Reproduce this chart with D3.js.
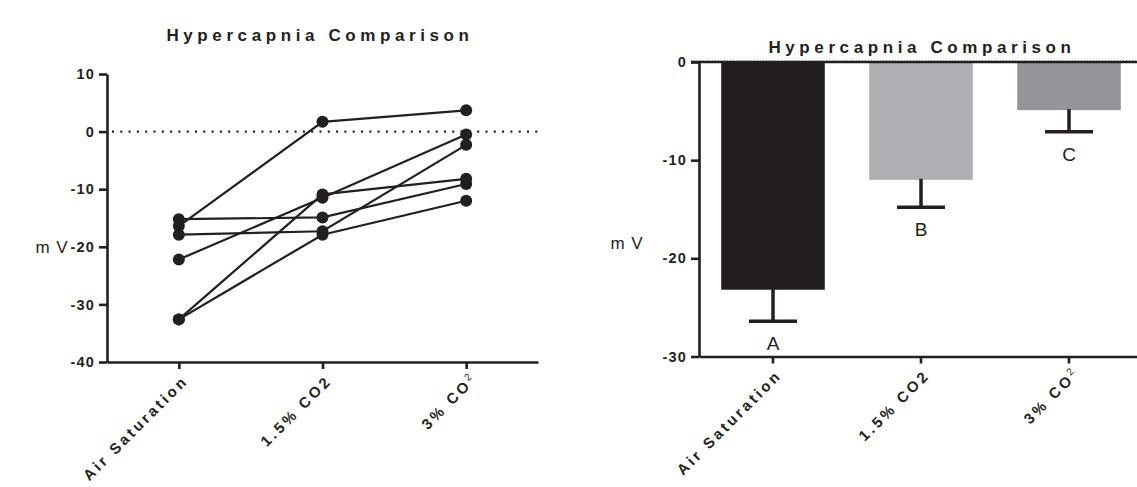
<!DOCTYPE html>
<html>
<head>
<meta charset="utf-8">
<script src="https://cdn.jsdelivr.net/npm/d3@7"></script>
<style>
  body { margin: 0; background: #fff; }
  svg { font-family: "Liberation Sans", Arial, sans-serif; }
  .ttl { font-weight: bold; font-size: 17px; letter-spacing: 4.6px; fill: #231f20; }
  .tick text { font-weight: bold; font-size: 14.5px; letter-spacing: 1.2px; fill: #231f20; font-family: "Liberation Sans", Arial, sans-serif; }
  .tick text.cat { font-size: 15px; letter-spacing: 3px; }
  .ylab { font-size: 17px; fill: #231f20; letter-spacing: 1px; }
  .grp { font-size: 19px; fill: #231f20; }
</style>
</head>
<body>
<svg id="chart" width="1137" height="487"></svg>
<script>
// categories + tick labels
const categories = ["Air Saturation", "1.5% CO2", "3% CO2"];
const leftTicks = [10, 0, -10, -20, -30, -40];
const rightTicks = [0, -10, -20, -30];

// paired recordings, one array per preparation (Air, 1.5%, 3%)
const subject1 = [-16.4, 1.7, 3.7];
const subject2 = [-15.2, -14.9, -9.1];
const subject3 = [-17.9, -17.3, -2.3];
const subject4 = [-22.2, -11.5, -0.5];
const subject5 = [-32.6, -10.9, -8.2];
const subject6 = [-32.6, -17.9, -12.0];
const subjects = [subject1, subject2, subject3, subject4, subject5, subject6];

// bar chart: means, error (lower end), letters
const barMeans = [-23.2, -12.0, -4.9];
const barErrLow = [-26.4, -14.8, -7.1];
const barLetters = ["A", "B", "C"];
const barColors = ["#231f20", "#aeafb2", "#939598"];

const ink = "#231f20";
const svg = d3.select("#chart");

function catLabel(sel) {
  sel.each(function(d) {
    const t = d3.select(this);
    t.text(null);
    if (d === "3% CO2") {
      t.append("tspan").text("3% CO");
      t.append("tspan").text("2").attr("dy", -6).style("font-size", "10px")
        .style("font-weight", "normal").style("letter-spacing", "0px");
    } else {
      t.text(d);
    }
  });
}

function styleAxis(g) {
  g.select(".domain").attr("stroke", ink).attr("stroke-width", 2.6);
  g.selectAll(".tick line").attr("stroke", ink).attr("stroke-width", 2.6);
}

// ---------- left: before/after lines ----------
const yL = d3.scaleLinear().domain([-40, 10]).range([362, 74]);
const xL = d3.scalePoint().domain(categories).range([107, 538]).padding(0.5);

svg.append("text").attr("class", "ttl").attr("x", 320).attr("y", 41)
  .attr("text-anchor", "middle").text("Hypercapnia Comparison");

svg.append("line")
  .attr("x1", 112).attr("x2", 538)
  .attr("y1", yL(0)).attr("y2", yL(0))
  .attr("stroke", ink).attr("stroke-width", 2.2)
  .attr("stroke-dasharray", "2,6.3");

const gyL = svg.append("g").attr("transform", "translate(107,0)")
  .call(d3.axisLeft(yL).tickValues(leftTicks).tickFormat(d => String(d))
    .tickSize(8).tickSizeOuter(0).tickPadding(4));
styleAxis(gyL);

const gxL = svg.append("g").attr("transform", `translate(0,${yL(-40)})`)
  .call(d3.axisBottom(xL).tickSize(7).tickSizeOuter(0));
styleAxis(gxL);
gxL.selectAll(".tick text").attr("class", "cat")
  .attr("text-anchor", "end")
  .attr("transform", "translate(6,16) rotate(-45)")
  .attr("dy", "0.35em")
  .attr("y", 0)
  .call(catLabel);

const line = d3.line().x((d, i) => xL(categories[i])).y(d => yL(d));
svg.append("g").selectAll("path").data(subjects).join("path")
  .attr("d", line).attr("fill", "none").attr("stroke", ink).attr("stroke-width", 2.2);
svg.append("g").selectAll("g").data(subjects).join("g")
  .selectAll("circle").data(d => d).join("circle")
  .attr("cx", (d, i) => xL(categories[i])).attr("cy", d => yL(d))
  .attr("r", 6).attr("fill", ink);

svg.append("text").attr("class", "ylab").attr("x", 52).attr("y", 253)
  .attr("text-anchor", "middle").text("m V");

// ---------- right: mean bars ----------
const yR = d3.scaleLinear().domain([-30, 0]).range([356.5, 62]);
const xR = d3.scaleBand().domain(categories).range([699, 1143]).paddingInner(0.3).paddingOuter(0.15);

svg.append("text").attr("class", "ttl").attr("x", 922).attr("y", 53)
  .attr("text-anchor", "middle").text("Hypercapnia Comparison");

svg.append("g").selectAll("rect").data(barMeans).join("rect")
  .attr("x", (d, i) => xR(categories[i]))
  .attr("width", xR.bandwidth())
  .attr("y", yR(0))
  .attr("height", d => yR(d) - yR(0))
  .attr("fill", (d, i) => barColors[i]);

const eb = svg.append("g").selectAll("g").data(barErrLow).join("g")
  .attr("transform", (d, i) => `translate(${xR(categories[i]) + xR.bandwidth() / 2},0)`);
eb.append("line").attr("x1", 0).attr("x2", 0)
  .attr("y1", (d, i) => yR(barMeans[i]) - 1).attr("y2", d => yR(d))
  .attr("stroke", ink).attr("stroke-width", 3.5);
eb.append("line").attr("x1", -24).attr("x2", 24)
  .attr("y1", d => yR(d)).attr("y2", d => yR(d))
  .attr("stroke", ink).attr("stroke-width", 3.5);
eb.append("text").attr("class", "grp").attr("text-anchor", "middle")
  .attr("y", d => yR(d) + 29).text((d, i) => barLetters[i]);

// zero line on top with faint dotted guide
svg.append("line").attr("x1", 691).attr("x2", 1137)
  .attr("y1", yR(0) - 1.5).attr("y2", yR(0) - 1.5)
  .attr("stroke", "#b5b5b5").attr("stroke-width", 1).attr("stroke-dasharray", "1,2");
svg.append("line").attr("x1", 691).attr("x2", 1137)
  .attr("y1", yR(0)).attr("y2", yR(0))
  .attr("stroke", ink).attr("stroke-width", 2.6);

const gyR = svg.append("g").attr("transform", "translate(699,0)")
  .call(d3.axisLeft(yR).tickValues(rightTicks).tickFormat(d => String(d))
    .tickSize(8).tickSizeOuter(0).tickPadding(4));
styleAxis(gyR);

const gxR = svg.append("g").attr("transform", `translate(0,${yR(-30)})`)
  .call(d3.axisBottom(xR).tickSize(7).tickSizeOuter(0));
styleAxis(gxR);
gxR.selectAll(".tick text").attr("class", "cat")
  .attr("text-anchor", "end")
  .attr("transform", "translate(6,16) rotate(-45)")
  .attr("dy", "0.35em")
  .attr("y", 0)
  .call(catLabel);

svg.append("text").attr("class", "ylab").attr("x", 627).attr("y", 249)
  .attr("text-anchor", "middle").text("m V");
</script>
</body>
</html>
